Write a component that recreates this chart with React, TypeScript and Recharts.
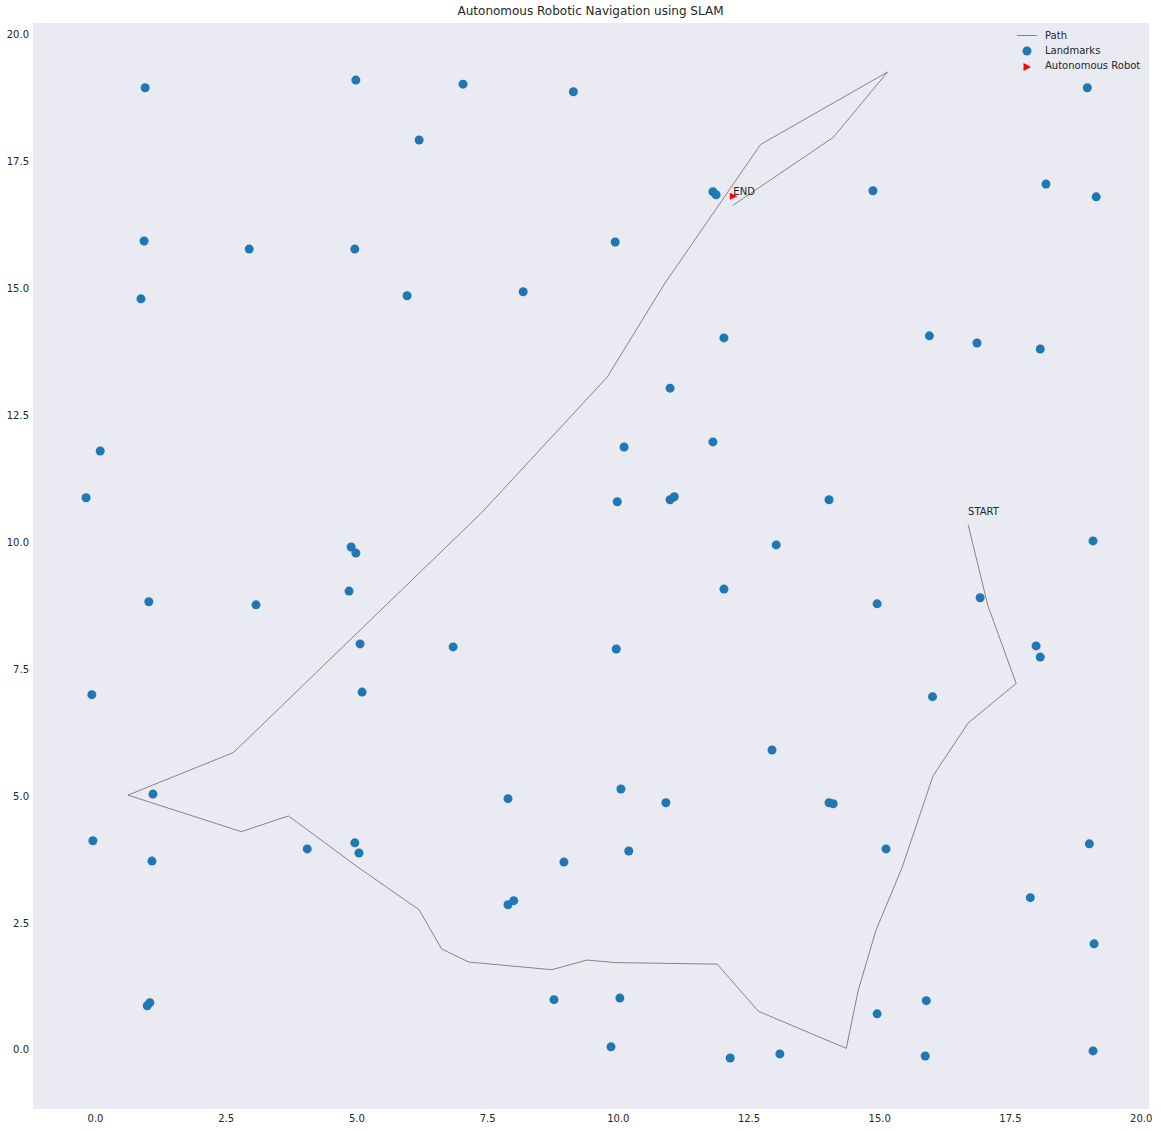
import React from "react";
import { ScatterChart, Scatter, XAxis, YAxis, CartesianGrid } from "recharts";

// landmark positions
const landmarkX = [
  0.95, 4.98, 7.03, 9.14, 6.19, 18.97, 18.18, 19.14, 14.87, 11.81,
  11.87, 0.93, 2.94, 4.96, 9.94, 0.87, 5.96, 8.18, 12.02, 15.95,
  16.86, 18.07, 10.99, 0.09, 10.11, 11.81, -0.18, 9.98, 10.99, 11.07,
  14.03, 19.08, 13.02, 4.89, 4.98, 4.85, 1.02, 3.07, 12.02, 14.95,
  16.92, 5.06, 6.84, 9.96, 17.99, 18.07, 5.1, -0.07, 16.01, 12.94,
  1.1, 7.89, 10.05, 10.91, 14.03, 14.11, -0.05, 4.05, 4.96, 5.04,
  1.08, 8.96, 10.2, 15.12, 19.01, 17.88, 7.89, 8.0, 19.1, 8.77,
  10.03, 15.89, 14.95, 1.04, 0.99, 9.86, 12.14, 13.09, 15.87, 19.08,
];
const landmarkY = [
  18.96, 19.11, 19.03, 18.88, 17.93, 18.96, 17.06, 16.81, 16.93, 16.91,
  16.85, 15.94, 15.78, 15.78, 15.92, 14.8, 14.86, 14.94, 14.03, 14.07,
  13.93, 13.81, 13.04, 11.8, 11.88, 11.98, 10.88, 10.8, 10.84, 10.9,
  10.84, 10.03, 9.95, 9.91, 9.79, 9.04, 8.83, 8.77, 9.08, 8.79,
  8.91, 8.0, 7.94, 7.9, 7.96, 7.74, 7.05, 7.0, 6.96, 5.91,
  5.04, 4.95, 5.14, 4.87, 4.87, 4.85, 4.12, 3.96, 4.08, 3.88,
  3.72, 3.7, 3.92, 3.96, 4.06, 3.0, 2.86, 2.94, 2.09, 0.99,
  1.02, 0.97, 0.71, 0.93, 0.87, 0.06, -0.16, -0.08, -0.12, -0.02,
];

// robot trajectory, START -> END
const pathX = [
  16.69, 17.07, 17.61, 16.69, 16.02, 15.43, 14.93, 14.59, 14.36, 12.68,
  11.89, 9.94, 9.4, 8.73, 7.14, 6.62, 6.19, 5.02, 3.69, 2.79,
  0.62, 2.64, 7.38, 9.79, 10.88, 12.72, 15.15, 14.11, 12.19,
];
const pathY = [
  10.35, 8.75, 7.22, 6.44, 5.4, 3.6, 2.36, 1.18, 0.03, 0.76,
  1.69, 1.72, 1.77, 1.58, 1.73, 1.99, 2.76, 3.6, 4.61, 4.3,
  5.02, 5.86, 10.58, 13.26, 15.09, 17.84, 19.27, 17.98, 16.64,
];

const robotPos = { x: 12.2, y: 16.82 };
const annotations = [
  { x: 16.69, y: 10.53, text: "START" },
  { x: 12.2, y: 16.82, text: "END" },
];

const xTicks = [0, 2.5, 5, 7.5, 10, 12.5, 15, 17.5, 20];
const yTicks = [0, 2.5, 5, 7.5, 10, 12.5, 15, 17.5, 20];

const landmarks = landmarkX.map((x, i) => ({ x, y: landmarkY[i] }));
const path = pathX.map((x, i) => ({ x, y: pathY[i] }));

const FONT = "'DejaVu Sans', sans-serif";
const TXT = "#262626";
const PATH_COLOR = "#858585";

const Dot = (p: any) => <circle cx={p.cx} cy={p.cy} r={4.5} fill="#1f77b4" />;
const NoDot = () => <g />;
const Robot = (p: any) => (
  <polygon
    points={`${p.cx - 3.5},${p.cy - 3.5} ${p.cx + 4},${p.cy} ${p.cx - 3.5},${p.cy + 3.5}`}
    fill="red"
  />
);
const Note = (p: any) => (
  <text x={p.cx} y={p.cy - 1} fontSize={10} fill={TXT} fontFamily={FONT}>
    {p.payload.text}
  </text>
);

const tickStyle = { fontSize: 10, fill: TXT, fontFamily: FONT };

// legend drawn as an overlay so it doesn't eat chart space
const LegendBox = () => (
  <div
    style={{
      position: "absolute",
      top: 28,
      left: 1014,
      fontFamily: FONT,
      fontSize: 10,
      color: TXT,
      lineHeight: "15px",
    }}
  >
    <div style={{ display: "flex", alignItems: "center" }}>
      <svg width={31} height={15}>
        <line x1={3} x2={23} y1={7.5} y2={7.5} stroke={PATH_COLOR} strokeWidth={1} />
      </svg>
      <span>Path</span>
    </div>
    <div style={{ display: "flex", alignItems: "center" }}>
      <svg width={31} height={15}>
        <circle cx={13} cy={8} r={4.5} fill="#1f77b4" />
      </svg>
      <span>Landmarks</span>
    </div>
    <div style={{ display: "flex", alignItems: "center" }}>
      <svg width={31} height={15}>
        <polygon points="9.5,5 17,9 9.5,13" fill="red" />
      </svg>
      <span>Autonomous Robot</span>
    </div>
  </div>
);

export default function App() {
  return (
    <div style={{ position: "absolute", left: 0, top: 0, width: 1161, height: 1131, background: "#fff" }}>
      <div
        style={{
          position: "absolute",
          top: 4,
          left: 0,
          width: 1181,
          textAlign: "center",
          fontFamily: FONT,
          fontSize: 12,
          color: TXT,
        }}
      >
        Autonomous Robotic Navigation using SLAM
      </div>
      <ScatterChart width={1161} height={1131} margin={{ top: 23, right: 12, bottom: 0, left: 0 }}>
        <CartesianGrid fill="#EAEAF2" horizontal={false} vertical={false} />
        <XAxis
          type="number"
          dataKey="x"
          domain={[-1.195, 20.15]}
          ticks={xTicks}
          tickFormatter={(v) => v.toFixed(1)}
          axisLine={false}
          tickLine={false}
          tickSize={4}
          tickMargin={2}
          height={22}
          tick={tickStyle}
        />
        <YAxis
          type="number"
          dataKey="y"
          domain={[-1.165, 20.235]}
          ticks={yTicks}
          tickFormatter={(v) => v.toFixed(1)}
          axisLine={false}
          tickLine={false}
          tickSize={2}
          tickMargin={2}
          width={33}
          tick={tickStyle}
        />
        <Scatter
          data={path}
          fill={PATH_COLOR}
          line={{ stroke: PATH_COLOR, strokeWidth: 1 }}
          shape={NoDot}
          isAnimationActive={false}
        />
        <Scatter data={landmarks} shape={Dot} isAnimationActive={false} />
        <Scatter data={[robotPos]} shape={Robot} isAnimationActive={false} />
        <Scatter data={annotations} shape={Note} isAnimationActive={false} />
      </ScatterChart>
      <LegendBox />
    </div>
  );
}
